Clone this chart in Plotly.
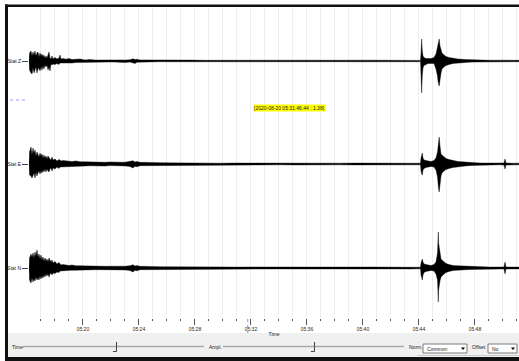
import pandas as pd
import plotly.graph_objects as go

# ---- waveform data: sample times (minutes after 05:00) and envelope half-amplitudes per component
minutes = [
    16.150, 16.186, 16.293, 16.364, 16.436, 16.507, 16.579, 16.650, 16.721, 16.793,
    16.864, 16.936, 17.007, 17.079, 17.150, 17.221, 17.293, 17.364, 17.436, 17.507,
    17.579, 17.650, 17.721, 17.793, 17.864, 18.007, 18.150, 18.293, 18.364, 18.436,
    18.579, 18.793, 19.007, 19.221, 19.507, 19.793, 20.150, 20.507, 20.864, 21.221,
    21.579, 21.936, 22.293, 22.650, 23.007, 23.364, 23.579, 23.721, 23.864, 24.079,
    24.436, 24.793, 25.507, 26.579, 27.650, 28.721, 29.793, 30.864, 31.936, 33.007,
    34.079, 35.150, 36.221, 37.293, 38.364, 39.436, 40.507, 41.579, 42.650, 43.364,
    43.936, 44.114, 44.150, 44.200, 44.243, 44.293, 44.364, 44.507, 44.650, 44.864,
    45.079, 45.221, 45.329, 45.364, 45.386, 45.407, 45.450, 45.507, 45.579, 45.650,
    45.793, 45.936, 46.150, 46.436, 46.793, 47.293, 47.793, 48.364, 49.079, 49.793,
    50.079, 50.150, 50.221, 50.650, 51.150,
]

z_up = [
    0, 8, 10, 5, 9, 6, 10, 5, 8, 9,
    4, 8, 5, 7, 4, 6, 3, 5, 3, 7,
    9, 3, 2, 5, 2, 3.5, 2, 3, 6, 2,
    2.5, 1.8, 2.5, 1.5, 1.6, 2, 1.1, 1.5, 1, 1.1,
    1, 1.5, 1, 1.1, 1, 1.2, 2.2, 1.4, 1.8, 1.1,
    1.1, 1, 0.8, 0.7, 0.9, 0.7, 0.8, 0.7, 0.9, 0.7,
    0.8, 0.7, 0.8, 0.7, 0.9, 0.7, 0.8, 0.7, 0.8, 0.7,
    0.7, 0.6, 8, 22, 10, 5, 3.5, 2.5, 2.5, 2.5,
    3.5, 7, 14, 18, 20, 21, 22, 15, 10, 8,
    6, 4.5, 3.5, 2.5, 2, 1.5, 1.1, 0.8, 0.7, 0.8,
    0.7, 0.8, 0.7, 0.7, 0.7,
]
z_dn = [
    0, 9, 12, 13, 7, 12, 9, 6, 12, 8,
    7, 10, 6, 9, 5, 8, 4, 6, 4, 9,
    6, 10, 3, 4, 3, 3.5, 2.5, 3.5, 2, 2.5,
    2.5, 2.5, 2, 2, 1.5, 1.5, 1.5, 1.1, 1, 1.1,
    1, 1, 1.1, 1, 1.5, 1.1, 1.6, 2.4, 1.2, 1.1,
    1, 1.1, 0.7, 0.8, 0.7, 0.9, 0.7, 0.8, 0.7, 0.8,
    0.7, 0.9, 0.7, 0.8, 0.7, 0.8, 0.7, 0.9, 0.7, 0.8,
    0.7, 0.6, 10, 32, 14, 7, 4.5, 3.5, 2.5, 2.5,
    2.5, 8, 15, 20, 22, 23, 25, 18, 12, 8,
    6, 4.5, 3.5, 2.5, 2, 1.5, 1.1, 0.7, 0.8, 0.7,
    0.8, 0.7, 0.8, 0.7, 0.7,
]

e_up = [
    0, 12, 17, 9, 16, 11, 14, 8, 12, 10,
    7, 11, 8, 10, 6, 9, 6, 8, 5, 8,
    6, 5, 4, 7, 4, 5, 3, 4.5, 4, 3,
    3.5, 3, 3, 2.5, 3, 2.2, 2.2, 2, 1.8, 2,
    1.7, 2, 1.6, 1.8, 1.8, 2.4, 3.2, 1.9, 2.5, 1.7,
    1.8, 1.6, 1.3, 1, 0.9, 1, 0.8, 0.9, 0.8, 0.9,
    0.8, 1, 0.8, 0.9, 0.8, 0.9, 0.8, 0.9, 0.8, 0.9,
    0.8, 0.7, 6, 9, 11, 6, 4, 3.5, 3, 2.5,
    3.5, 6, 12, 18, 20, 24, 27, 18, 10, 9,
    7, 5.5, 4.5, 3.5, 2.5, 2, 1.4, 1, 0.9, 0.8,
    1, 5, 1, 0.8, 0.8,
]
e_dn = [
    0, 11, 12, 14, 13, 9, 14, 8, 12, 9,
    7, 10, 7, 9, 6, 8, 5, 8, 5, 7,
    8, 5, 4, 7, 4, 5, 3, 4.5, 3, 3,
    3, 2.5, 3, 2.2, 2.2, 2.2, 2, 1.8, 2, 1.7,
    2, 1.6, 2, 1.7, 1.9, 2.6, 4, 2.2, 2.8, 1.7,
    1.8, 1.6, 1.3, 1, 0.8, 0.9, 0.8, 1, 0.8, 0.9,
    0.8, 0.9, 0.8, 1, 0.8, 0.9, 0.8, 0.9, 0.8, 0.9,
    0.8, 0.7, 7, 10, 11, 6, 4.5, 3.5, 3, 2.5,
    3, 6, 13, 19, 22, 25, 28, 20, 12, 9,
    7, 5.5, 4.5, 3.5, 2.5, 2, 1.4, 1, 0.9, 0.8,
    1, 5, 1, 0.8, 0.8,
]

n_up = [
    0, 10, 14, 11, 15, 10, 16, 12, 18, 11,
    14, 9, 13, 8, 11, 7, 10, 7, 9, 6,
    10, 7, 6, 8, 5, 6.5, 4, 5.5, 4, 3,
    3.5, 3, 2.5, 3, 2.2, 2.2, 2, 1.8, 2, 1.7,
    1.7, 1.8, 1.6, 1.7, 1.8, 2.3, 3.2, 1.9, 2.4, 1.7,
    1.8, 1.6, 1.3, 1.1, 1, 0.9, 1, 0.9, 1, 0.9,
    1, 0.9, 1, 0.9, 1, 0.9, 1, 0.9, 1, 0.9,
    0.9, 0.7, 5, 8, 9, 6, 4, 3.5, 3, 2.5,
    3.5, 6, 15, 24, 36, 25, 20, 14, 9, 8,
    6, 4.5, 3.5, 2.5, 2.2, 1.8, 1.4, 1, 0.9, 1,
    1, 6, 1, 0.9, 0.9,
]
n_dn = [
    0, 12, 15, 10, 14, 11, 13, 9, 12, 10,
    12, 8, 11, 8, 10, 7, 9, 6, 8, 6,
    9, 6, 5, 7, 5, 5.5, 4, 4.5, 3, 3,
    3, 3, 2.5, 2.2, 2.2, 2.2, 2, 2, 1.7, 1.7,
    1.7, 1.7, 1.7, 2, 1.9, 2.6, 4, 2.2, 2.8, 1.7,
    1.8, 1.6, 1.3, 1.1, 0.9, 1, 0.9, 1, 0.9, 1,
    0.9, 1, 0.9, 1, 0.9, 1, 0.9, 1, 0.9, 1,
    0.9, 0.7, 7, 10, 12, 7, 4.5, 3.5, 3, 2.5,
    3, 6, 12, 20, 34, 22, 18, 13, 9, 8,
    6, 4.5, 3.5, 2.5, 2.2, 1.8, 1.4, 1, 0.9, 1,
    1, 6, 1, 0.9, 0.9,
]

channel_names = ["Stat Z", "Stat E", "Stat N"]
cursor_time = "2020-08-20 05:31:46.44"
cursor_value = 1.38
norm_option = "Common"
offset_option = "No"

# ---- layout constants (pixels)
W_PX, H_PX = 519, 361
L, T, R, B = 29, 7, 0, 43
PW, PH = W_PX - L - R, H_PX - T - B
CHANNEL_BASE = [257, 154, 50]     # trace baselines on the stacked amplitude axis
CURSOR_LEVEL = 218
FONT = "Liberation Sans, Arial, sans-serif"


def px_x(p):
    return (p - L) / PW


def px_y(p):
    return (T + PH - p) / PH


t0 = pd.Timestamp("2020-08-20 05:00:00")
times = [t0 + pd.Timedelta(minutes=m) for m in minutes]

fig = go.Figure()
for name, base, up, dn in zip(channel_names, CHANNEL_BASE, [z_up, e_up, n_up], [z_dn, e_dn, n_dn]):
    xs = times + times[::-1]
    ys = [base + u for u in up] + [base - d for d in dn[::-1]]
    fig.add_trace(go.Scatter(
        x=xs, y=ys, mode="lines", fill="toself", fillcolor="black",
        line=dict(color="black", width=0.4), name=name, hoverinfo="skip",
    ))

shapes = []
# window frame
shapes.append(dict(type="rect", xref="paper", yref="paper", x0=px_x(5), x1=px_x(520),
                   y0=px_y(7), y1=px_y(4.5), fillcolor="#111", line_width=0, layer="above"))
shapes.append(dict(type="rect", xref="paper", yref="paper", x0=px_x(5), x1=px_x(8),
                   y0=px_y(361), y1=px_y(4.5), fillcolor="#111", line_width=0, layer="above"))
# control panel
shapes.append(dict(type="rect", xref="paper", yref="paper", x0=px_x(8), x1=px_x(520),
                   y0=px_y(357), y1=px_y(333), fillcolor="#f0f0f0", line_width=0))
shapes.append(dict(type="rect", xref="paper", yref="paper", x0=px_x(5), x1=px_x(520),
                   y0=px_y(361), y1=px_y(357), fillcolor="#111", line_width=0, layer="above"))
# sliders
for x0, x1, thumb in [(23, 204, 116.5), (223, 404, 314.5)]:
    shapes.append(dict(type="line", xref="paper", yref="paper", x0=px_x(x0), x1=px_x(x1),
                       y0=px_y(346.5), y1=px_y(346.5), line=dict(color="#a8a8a8", width=1.5)))
    shapes.append(dict(type="line", xref="paper", yref="paper", x0=px_x(thumb), x1=px_x(thumb),
                       y0=px_y(342), y1=px_y(351.5), line=dict(color="#444", width=1)))
    shapes.append(dict(type="line", xref="paper", yref="paper", x0=px_x(thumb - 3.5), x1=px_x(thumb),
                       y0=px_y(351.5), y1=px_y(351.5), line=dict(color="#444", width=1)))
# combo boxes
for x0, x1 in [(423, 467), (488, 517)]:
    shapes.append(dict(type="rect", xref="paper", yref="paper", x0=px_x(x0), x1=px_x(x1),
                       y0=px_y(353), y1=px_y(344), fillcolor="white", line=dict(color="#7a7a7a", width=1)))
    ax = x1 - 4
    shapes.append(dict(type="path", xref="paper", yref="paper",
                       path=f"M {px_x(ax - 2)},{px_y(347.5)} L {px_x(ax + 2)},{px_y(347.5)} L {px_x(ax)},{px_y(350)} Z",
                       fillcolor="black", line_width=0))
shapes.append(dict(type="line", xref="paper", yref="paper", x0=px_x(417), x1=px_x(520),
                   y0=px_y(355.5), y1=px_y(355.5), line=dict(color="#c8c8c8", width=1)))
# cursor markers
shapes.append(dict(type="line", xref="x", yref="paper", x0=cursor_time, x1=cursor_time,
                   y0=px_y(319), y1=px_y(333), line=dict(color="#8c8cff", width=1, dash="dot")))
shapes.append(dict(type="line", xref="paper", yref="y", x0=px_x(10), x1=px_x(28),
                   y0=CURSOR_LEVEL, y1=CURSOR_LEVEL, line=dict(color="#9a9aff", width=1, dash="dot")))

small = dict(family=FONT, size=5, color="#222")
annotations = [
    dict(x=cursor_time, y=CURSOR_LEVEL, xref="x", yref="y", xanchor="left", yanchor="middle",
         xshift=5, yshift=-8, showarrow=False, bgcolor="#ffff00", borderpad=0,
         text=f"[{cursor_time} ; {cursor_value:.2f}]", font=small),
]
for label, x in [("Time", 10), ("Ampl.", 207), ("Norm.", 407), ("Offset", 470)]:
    annotations.append(dict(x=px_x(x), y=px_y(347), xref="paper", yref="paper", xanchor="left",
                            yanchor="middle", showarrow=False, text=label, font=small))
for label, x in [(norm_option, 425), (offset_option, 490)]:
    annotations.append(dict(x=px_x(x), y=px_y(348.5), xref="paper", yref="paper", xanchor="left",
                            yanchor="middle", showarrow=False, text=label, font=small))

fig.update_layout(
    width=W_PX, height=H_PX,
    margin=dict(l=L, r=R, t=T, b=B),
    paper_bgcolor="white", plot_bgcolor="white",
    showlegend=False,
    shapes=shapes, annotations=annotations,
    xaxis=dict(
        type="date",
        range=[t0 + pd.Timedelta(minutes=16.15), t0 + pd.Timedelta(minutes=51.15)],
        tick0="2020-08-20 05:00:00", dtick=4 * 60000, tickformat="%H:%M",
        ticks="outside", ticklen=6, tickcolor="#555", tickwidth=1,
        showgrid=True, gridcolor="#eeeeee", gridwidth=1,
        minor=dict(dtick=60000, tick0="2020-08-20 05:00:00", ticks="outside", ticklen=2,
                   tickcolor="#555", showgrid=True, gridcolor="#eeeeee", gridwidth=1),
        showline=False, zeroline=False,
        tickfont=small,
        title=dict(text="Time", font=small, standoff=1),
    ),
    yaxis=dict(
        range=[0, PH], fixedrange=True,
        tickvals=CHANNEL_BASE, ticktext=channel_names,
        ticks="outside", ticklen=6, tickcolor="#444",
        showgrid=False, zeroline=False, showline=False,
        tickfont=small,
    ),
)

fig.write_html("out.html")
